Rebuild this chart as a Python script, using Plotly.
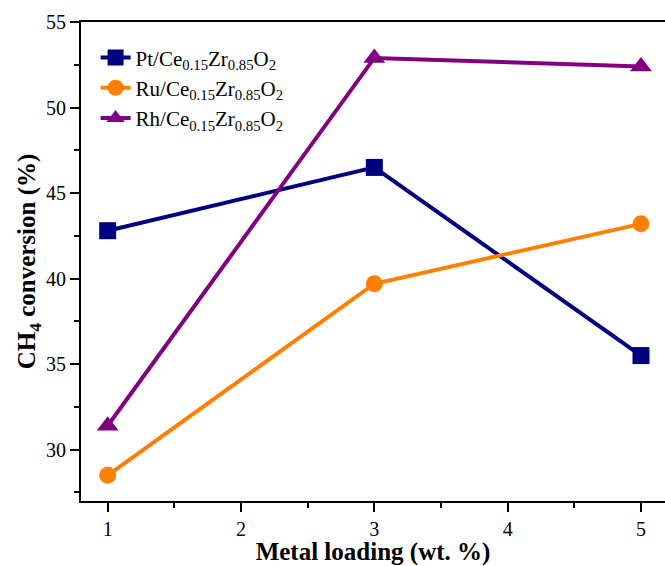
import plotly.graph_objects as go

# Metal loading (wt. %) and CH4 conversion (%) per catalyst
loading = [1, 3, 5]
pt_conv = [42.8, 46.5, 35.5]
ru_conv = [28.5, 39.7, 43.2]
rh_conv = [31.4, 52.9, 52.4]

series = [
    ("Pt/Ce<sub>0.15</sub>Zr<sub>0.85</sub>O<sub>2</sub>", pt_conv, "#000080", "square"),
    ("Ru/Ce<sub>0.15</sub>Zr<sub>0.85</sub>O<sub>2</sub>", ru_conv, "#FF8000", "circle"),
    ("Rh/Ce<sub>0.15</sub>Zr<sub>0.85</sub>O<sub>2</sub>", rh_conv, "#800080", "triangle-up"),
]

font_family = "Liberation Serif"

fig = go.Figure()
for i, (name, vals, color, sym) in enumerate(series):
    fig.add_trace(go.Scatter(
        x=loading, y=vals, name=name, mode="lines+markers",
        legendgroup=f"g{i}",
        line=dict(color=color, width=4),
        marker=dict(symbol=sym, size=17 if sym != "triangle-up" else 19, color=color),
    ))

axis_common = dict(
    showgrid=False, zeroline=False, showline=True, linecolor="black", linewidth=2,
    ticks="outside", ticklen=9, tickwidth=2, tickcolor="black",
    tickfont=dict(family=font_family, size=20, color="black"),
)

fig.update_xaxes(
    range=[0.8, 5.18], tickvals=[1, 2, 3, 4, 5], mirror=True,
    title=dict(text="<b>Metal loading (wt. %)</b>", font=dict(family=font_family, size=25, color="black"), standoff=0),
    minor=dict(ticks="outside", ticklen=5, tickwidth=2, tickcolor="black", tickvals=[1.5, 2.5, 3.5, 4.5]),
    **axis_common,
)
fig.update_yaxes(
    range=[27, 55], tickvals=[30, 35, 40, 45, 50, 55], mirror=False,
    title=dict(text="<b>CH<sub>4</sub> conversion (%)</b>", font=dict(family=font_family, size=25, color="black"), standoff=3),
    minor=dict(ticks="outside", ticklen=5, tickwidth=2, tickcolor="black", tickvals=[27.5, 32.5, 37.5, 42.5, 47.5, 52.5]),
    **axis_common,
)

fig.update_layout(
    width=665, height=566,
    margin=dict(l=81, r=0, t=22, b=65),
    plot_bgcolor="white", paper_bgcolor="white",
    font=dict(family=font_family, color="black"),
    showlegend=True,
    legend=dict(
        x=0.025, y=0.968, xanchor="left", yanchor="top",
        font=dict(family=font_family, size=21, color="black"),
        bgcolor="rgba(0,0,0,0)", tracegroupgap=0,
    ),
)

fig.write_html("out.html")
